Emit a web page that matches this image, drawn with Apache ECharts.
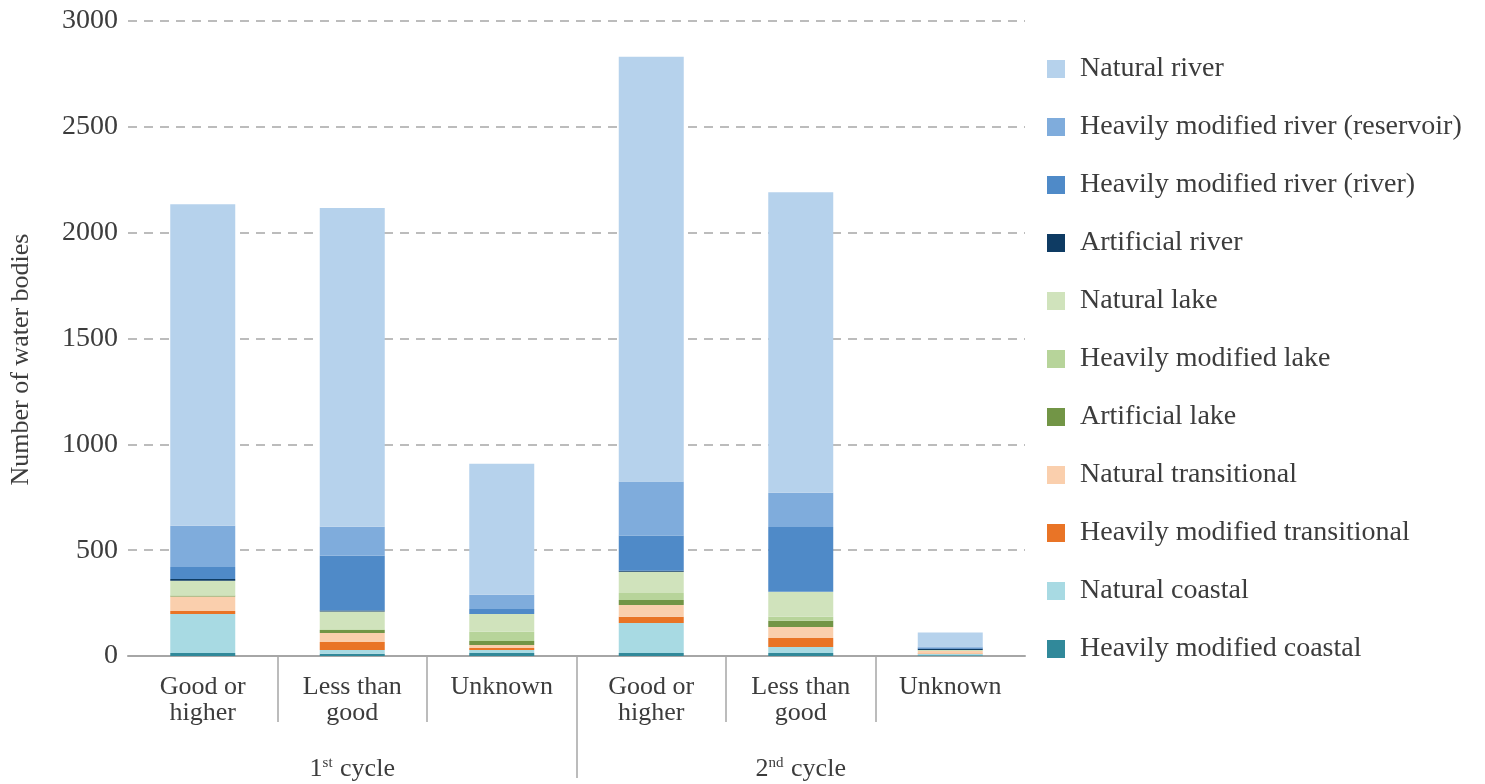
<!DOCTYPE html>
<html>
<head>
<meta charset="utf-8">
<script src="https://cdn.jsdelivr.net/npm/echarts@6/dist/echarts.min.js"></script>
<style>html,body{margin:0;padding:0;background:#fff}#c{width:1485px;height:784px}</style>
</head>
<body>
<div id="c"></div>
<script>
const categories = ['Good or\nhigher', 'Less than\ngood', 'Unknown', 'Good or\nhigher', 'Less than\ngood', 'Unknown'];
const cycles = ['1st cycle', '2nd cycle'];
const yTicks = [0, 500, 1000, 1500, 2000, 2500, 3000];

const heavilyModifiedCoastal = [14, 11, 14, 14, 14, 3];
const naturalCoastal = [185, 17, 14, 142, 29, 7];
const heavilyModifiedTransitional = [14, 38, 10, 29, 42, 2];
const naturalTransitional = [68, 43, 14, 56, 52, 12];
const artificialLake = [4, 14, 19, 24, 29, 1];
const heavilyModifiedLake = [2, 3, 44, 33, 19, 1];
const naturalLake = [68, 84, 84, 100, 118, 2];
const artificialRiver = [9, 5, 0, 5, 0, 6];
const heavilyModifiedRiverRiver = [57, 259, 23, 166, 307, 5];
const heavilyModifiedRiverReservoir = [194, 137, 67, 255, 161, 6];
const naturalRiver = [1519, 1505, 619, 2007, 1420, 66];

const seriesDefs = [
  ['Heavily modified coastal', heavilyModifiedCoastal, '#31899a'],
  ['Natural coastal', naturalCoastal, '#a8dae3'],
  ['Heavily modified transitional', heavilyModifiedTransitional, '#e97426'],
  ['Natural transitional', naturalTransitional, '#facfad'],
  ['Artificial lake', artificialLake, '#729546'],
  ['Heavily modified lake', heavilyModifiedLake, '#b7d49a'],
  ['Natural lake', naturalLake, '#d0e3bc'],
  ['Artificial river', artificialRiver, '#0e3b63'],
  ['Heavily modified river (river)', heavilyModifiedRiverRiver, '#4f8ac8'],
  ['Heavily modified river (reservoir)', heavilyModifiedRiverReservoir, '#7facdc'],
  ['Natural river', naturalRiver, '#b6d2ec']
];

const FONT = 'Liberation Serif';
const TXT = '#3c3c3c';
const GRID_COL = '#a6a6a6';

const chart = echarts.init(document.getElementById('c'), null, {renderer: 'canvas'});
chart.setOption({
  animation: false,
  textStyle: {fontFamily: FONT, color: TXT},
  grid: {left: 128, right: 460, top: 21, bottom: 128, containLabel: false, outerBoundsMode: 'none'},
  legend: {
    orient: 'vertical',
    left: 1042,
    top: 50,
    itemWidth: 18,
    itemHeight: 18,
    itemGap: 30,
    icon: 'rect',
    data: seriesDefs.map(d => d[0]).reverse(),
    textStyle: {fontFamily: FONT, fontSize: 28, color: TXT, lineHeight: 28, padding: [0, 0, 0, 10]}
  },
  xAxis: [
    {
      type: 'category',
      data: categories,
      position: 'bottom',
      axisLine: {show: true, lineStyle: {color: GRID_COL, width: 2}},
      axisTick: {show: false},
      axisLabel: {interval: 0, fontFamily: FONT, fontSize: 26, lineHeight: 26, color: TXT, margin: 18}
    },
    {
      type: 'category',
      data: ['', '', '', '', '', '', ''],
      boundaryGap: false,
      position: 'bottom',
      axisLine: {show: false},
      axisLabel: {show: false},
      axisTick: {show: true, length: 66, interval: (i) => i === 1 || i === 2 || i === 4 || i === 5, lineStyle: {color: GRID_COL, width: 1.5}}
    },
    {
      type: 'category',
      data: ['', '', ''],
      boundaryGap: false,
      position: 'bottom',
      axisLine: {show: false},
      axisLabel: {show: false},
      axisTick: {show: true, length: 122, interval: (i) => i === 1, lineStyle: {color: GRID_COL, width: 1.5}}
    },
    {
      type: 'category',
      data: cycles,
      position: 'bottom',
      axisLine: {show: false},
      axisTick: {show: false},
      axisLabel: {
        interval: 0,
        margin: 100,
        formatter: (v) => {
          const m = v.match(/^(\d)(st|nd|rd|th)(.*)$/);
          return m ? '{n|' + m[1] + '}{s|' + m[2] + '}{n|' + m[3] + '}' : v;
        },
        rich: {
          n: {fontFamily: FONT, fontSize: 26, lineHeight: 26, color: TXT},
          s: {fontFamily: FONT, fontSize: 15, lineHeight: 15, color: TXT, verticalAlign: 'top', padding: [0, 1, 0, 0]}
        }
      }
    }
  ],
  yAxis: {
    type: 'value',
    min: 0,
    max: 3000,
    interval: 500,
    name: 'Number of water bodies',
    nameLocation: 'middle',
    nameGap: 94,
    nameTextStyle: {fontFamily: FONT, fontSize: 26, color: TXT, padding: [0, 42, 0, 0]},
    axisLine: {show: false},
    axisTick: {show: false},
    axisLabel: {fontFamily: FONT, fontSize: 28, color: TXT, margin: 10,
      formatter: (v) => yTicks.indexOf(v) >= 0 ? String(v) : ''},
    splitLine: {show: true, lineStyle: {color: GRID_COL, width: 1.5, type: [9, 7]}}
  },
  series: seriesDefs.map(d => ({
    name: d[0],
    type: 'bar',
    stack: 'total',
    xAxisIndex: 0,
    barWidth: 65,
    data: d[1],
    itemStyle: {color: d[2]},
    emphasis: {disabled: true}
  }))
});
</script>
</body>
</html>
